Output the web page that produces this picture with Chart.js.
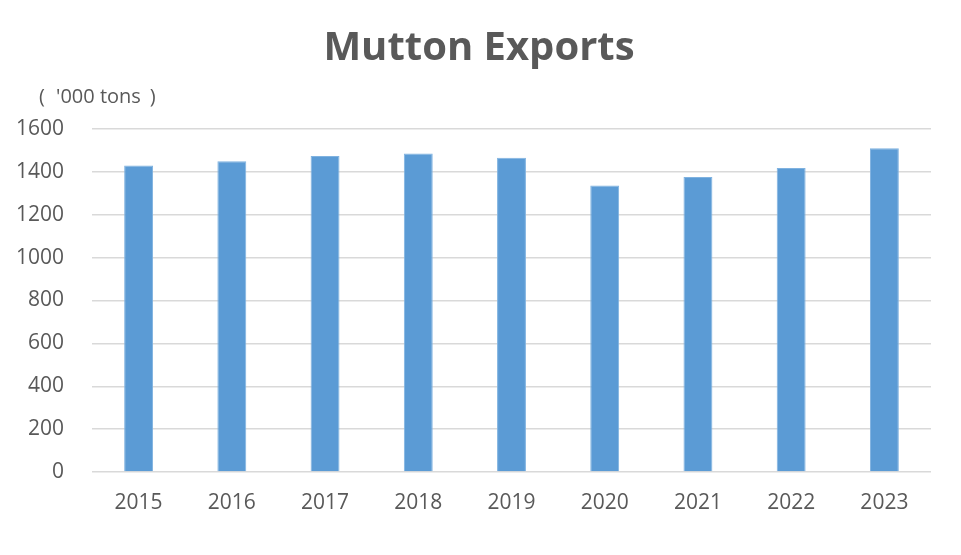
<!DOCTYPE html>
<html>
<head>
<meta charset="utf-8">
<script src="https://cdn.jsdelivr.net/npm/chart.js@4"></script>
<style>
    html, body { margin: 0; padding: 0; background: #fff; }
    #wrap { width: 961px; height: 555px; position: relative; }
</style>
</head>
<body>
<div id="wrap"><canvas id="exportChart" width="961" height="555"></canvas></div>
<script>
const years   = ["2015", "2016", "2017", "2018", "2019", "2020", "2021", "2022", "2023"];
const exports = [1430, 1450, 1474, 1486, 1466, 1337, 1376, 1418, 1510];
const yTicks  = [0, 200, 400, 600, 800, 1000, 1200, 1400, 1600];
const titleText = "Mutton Exports";
const unitLabel = "'000 tons";

const textColor = "#595959";
const fontFamily = "'Open Sans', 'Noto Sans CJK SC', sans-serif";

// title (centred on the whole chart box, like the original) and unit label
const headerPlugin = {
    id: "header",
    afterDraw(chart) {
        const ctx = chart.ctx;
        ctx.save();
        ctx.fillStyle = textColor;
        ctx.textBaseline = "middle";

        ctx.font = `bold 40px ${fontFamily}`;
        ctx.textAlign = "center";
        ctx.fillText(titleText, 479, 49);

        ctx.font = `20px ${fontFamily}`;
        ctx.textAlign = "left";
        const w = ctx.measureText(unitLabel).width;
        ctx.fillText(unitLabel, 56, 97);
        ctx.fillText("(", 39, 97);
        ctx.fillText(")", 56 + w + 9, 97);
        ctx.restore();
    }
};

new Chart(document.getElementById("exportChart"), {
    type: "bar",
    data: {
        labels: years,
        datasets: [{
            label: "Mutton Exports",
            data: exports,
            backgroundColor: "#5B9BD5",
            borderColor: "#7FB2E0",
            borderWidth: 1,
            categoryPercentage: 1,
            barPercentage: 0.31,
        }]
    },
    options: {
        responsive: false,
        animation: false,
        layout: { padding: { left: 0, right: 30, top: 129, bottom: 0 } },
        plugins: {
            legend: { display: false },
            tooltip: { enabled: false },
            title: { display: false }
        },
        scales: {
            x: {
                grid: { display: false, drawTicks: false },
                border: { display: false },
                ticks: { color: textColor, font: { family: fontFamily, size: 21 }, padding: 18 },
                afterFit: s => { s.height = 83; }
            },
            y: {
                min: 0,
                max: 1600,
                afterBuildTicks: s => { s.ticks = yTicks.map(v => ({ value: v })); },
                grid: { color: "#D9D9D9", lineWidth: 1.5, drawTicks: false },
                border: { display: false },
                ticks: {
                    color: textColor,
                    font: { family: fontFamily, size: 21 },
                    padding: 28,
                    callback: v => String(v)
                },
                afterFit: s => { s.width = 92; }
            }
        }
    },
    plugins: [headerPlugin]
});
</script>
</body>
</html>
